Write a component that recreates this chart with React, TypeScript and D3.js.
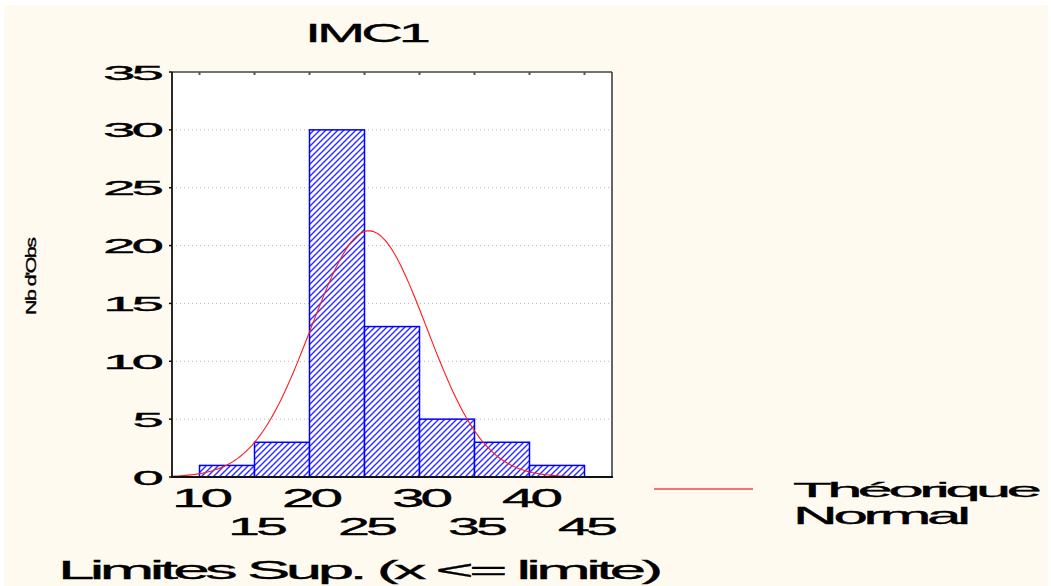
import React, { useLayoutEffect, useRef, useState } from "react";
import * as d3 from "d3";

const chartTitle = "IMC1";
const binStarts = [10, 15, 20, 25, 30, 35, 40];
const binWidth = 5;
const counts = [1, 3, 30, 13, 5, 3, 1];
const yTicks = [0, 5, 10, 15, 20, 25, 30, 35];
const xTicksRow1 = [10, 20, 30, 40];
const xTicksRow2 = [15, 25, 35, 45];
const normalMean = 25.4;
const normalSD = 5.25;
const yAxisTitle = "Nb d'Obs";
const xAxisTitle = "Limites Sup. (x <= limite)";
const legendLabel = ["Théorique", "Normal"];

const W = 1051;
const H = 586;
const FONT = "'Liberation Sans', Arial, sans-serif";

type StretchProps = {
  x: number;
  y: number;
  width: number;
  size: number;
  anchor?: "start" | "middle" | "end";
  rotate?: boolean;
  tight?: number;
  children: string;
};

function StretchText({ x, y, width, size, anchor = "start", rotate = false, tight = 0.07, children }: StretchProps) {
  const ref = useRef<SVGTextElement>(null);
  const [w, setW] = useState<number | null>(null);
  useLayoutEffect(() => {
    if (ref.current) {
      const bw = ref.current.getBBox().width;
      if (bw > 0) setW(bw);
    }
  }, [children, size]);
  const k = w ? width / w : 1;
  let x0 = x;
  if (anchor === "middle") x0 = x - width / 2;
  if (anchor === "end") x0 = x - width;
  const transform = rotate
    ? `translate(${y},${x0 + width}) rotate(-90) scale(${k},1)`
    : `translate(${x0},${y}) scale(${k},1)`;
  return (
    <text
      ref={ref}
      transform={transform}
      fontFamily={FONT}
      fontSize={size}
      letterSpacing={-tight * size}
      fill="#000"
      stroke="#000"
      strokeWidth={0.35}
    >
      {children}
    </text>
  );
}

export default function App() {
  const left = 172, right = 612, top = 72, bottom = 477;
  const x = d3.scaleLinear().domain([7.5, 47.5]).range([left, right]);
  const y = d3.scaleLinear().domain([0, 35]).range([bottom, top]);
  const n = d3.sum(counts);

  const curveXs = d3.range(7.5, 47.51, 0.25);
  const pdf = (v: number) =>
    (n * binWidth) / (normalSD * Math.sqrt(2 * Math.PI)) *
    Math.exp(-0.5 * ((v - normalMean) / normalSD) ** 2);
  const line = d3
    .line<number>()
    .x((v) => x(v))
    .y((v) => y(pdf(v)))
    .curve(d3.curveLinear);

  return (
    <svg
      width={W}
      height={H}
      style={{ position: "absolute", left: 0, top: 0, display: "block" }}
    >
      <defs>
        <pattern id="hatch" patternUnits="userSpaceOnUse" width="6" height="6">
          <rect width="6" height="6" fill="#ffffff" />
          <path
            d="M-1,7 L7,-1 M-1,1 L1,-1 M5,7 L7,5"
            stroke="#2a2aff"
            strokeWidth="1.4"
          />
        </pattern>
        <clipPath id="plotClip">
          <rect x={left} y={top} width={right - left} height={bottom - top} />
        </clipPath>
      </defs>
      <rect x={0} y={0} width={W} height={H} fill="#ffffff" />
      <rect x={4} y={5} width={W - 7} height={H - 5} fill="#fffaf0" />

      <StretchText x={305} y={42} width={125} size={26}>{chartTitle}</StretchText>

      <rect x={left} y={top} width={right - left} height={bottom - top} fill="#ffffff" />

      {yTicks.slice(1, -1).map((t) => (
        <line
          key={"g" + t}
          x1={left}
          x2={right}
          y1={y(t)}
          y2={y(t)}
          stroke="#b8b8b8"
          strokeWidth={1}
          strokeDasharray="1,3"
        />
      ))}

      {counts.map((c, i) => (
        <rect
          key={"b" + i}
          x={x(binStarts[i])}
          y={y(c)}
          width={x(binStarts[i] + binWidth) - x(binStarts[i])}
          height={y(0) - y(c)}
          fill="url(#hatch)"
          stroke="#0000ff"
          strokeWidth={1.5}
        />
      ))}

      <path
        d={line(curveXs) || ""}
        fill="none"
        stroke="#ff1a1a"
        strokeWidth={1.1}
        clipPath="url(#plotClip)"
      />

      <line x1={left} x2={right} y1={top} y2={top} stroke="#444" strokeWidth={1.5} />
      <line x1={right} x2={right} y1={top} y2={bottom} stroke="#333" strokeWidth={1.5} />
      <line x1={left} x2={left} y1={top} y2={bottom + 1} stroke="#111" strokeWidth={1.8} />
      <line x1={left - 1} x2={right + 1} y1={bottom} y2={bottom} stroke="#111" strokeWidth={1.8} />

      {[...xTicksRow1, ...xTicksRow2].map((t) => (
        <line key={"tt" + t} x1={x(t)} x2={x(t)} y1={top} y2={top + 3} stroke="#555" strokeWidth={2} />
      ))}

      {yTicks.map((t) => (
        <g key={"y" + t}>
          <line x1={left - 3} x2={left} y1={y(t)} y2={y(t)} stroke="#111" strokeWidth={1.5} />
          <StretchText x={162} y={y(t) + 7.5} width={String(t).length * 29.5} size={21} anchor="end">
            {String(t)}
          </StretchText>
        </g>
      ))}

      {xTicksRow1.map((t) => (
        <StretchText key={"x1" + t} x={x(t) + 2} y={507} width={59} size={25} anchor="middle">
          {String(t)}
        </StretchText>
      ))}
      {xTicksRow2.map((t) => (
        <StretchText key={"x2" + t} x={x(t) + 3} y={535} width={59} size={24} anchor="middle">
          {String(t)}
        </StretchText>
      ))}

      <StretchText x={237} y={36} width={78} size={14} rotate>
        {yAxisTitle}
      </StretchText>

      <StretchText x={58} y={579} width={604} size={26}>{xAxisTitle}</StretchText>

      <line x1={654} x2={753} y1={489} y2={489} stroke="#f04848" strokeWidth={1.3} />
      <StretchText x={793} y={497} width={247} size={21}>{legendLabel[0]}</StretchText>
      <StretchText x={793} y={524} width={175} size={23}>{legendLabel[1]}</StretchText>
    </svg>
  );
}
